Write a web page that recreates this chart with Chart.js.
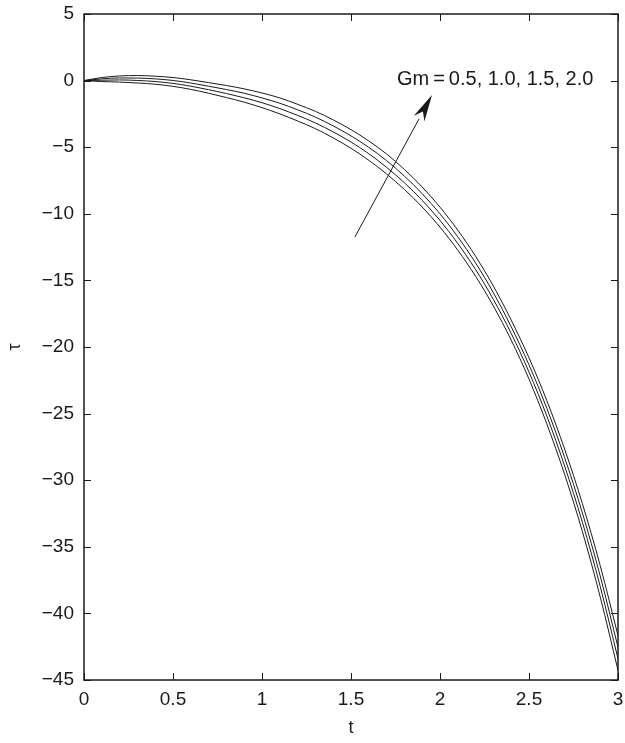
<!DOCTYPE html>
<html>
<head>
<meta charset="utf-8">
<script src="https://cdn.jsdelivr.net/npm/chart.js@4"></script>
<style>
	html, body { margin: 0; padding: 0; background: #fff; }
	canvas { display: block; }
</style>
</head>
<body>
<canvas id="c" width="625" height="743"></canvas>
<script>
// time axis
const tValues = [0, 0.1, 0.2, 0.3, 0.4, 0.5, 0.6, 0.7, 0.8, 0.9, 1.0, 1.1, 1.2, 1.3, 1.4, 1.5,
	1.6, 1.7, 1.8, 1.9, 2.0, 2.1, 2.2, 2.3, 2.4, 2.5, 2.6, 2.7, 2.8, 2.9, 3.0];

// tau for Gm = 0.5, 1.0, 1.5, 2.0
const tauGm05 = [0, -0.07, -0.11, -0.18, -0.27, -0.43, -0.66, -0.95, -1.27, -1.62, -2.03, -2.5, -3.03, -3.61, -4.30, -5.08,
	-5.98, -7.01, -8.17, -9.49, -11.0, -12.73, -14.69, -16.93, -19.48, -22.41, -25.77, -29.56, -33.86, -38.76, -44.27];
const tauGm10 = [0, 0.03, 0.05, 0.01, -0.07, -0.21, -0.42, -0.68, -0.97, -1.29, -1.66, -2.1, -2.61, -3.18, -3.85, -4.61,
	-5.49, -6.51, -7.67, -8.99, -10.5, -12.23, -14.19, -16.43, -18.98, -21.88, -25.18, -28.93, -33.16, -37.97, -43.40];
const tauGm15 = [0, 0.13, 0.20, 0.19, 0.13, 0.01, -0.18, -0.42, -0.67, -0.95, -1.30, -1.7, -2.19, -2.74, -3.40, -4.15,
	-5.01, -6.01, -7.17, -8.49, -10.0, -11.73, -13.69, -15.93, -18.48, -21.34, -24.60, -28.29, -32.46, -37.19, -42.54];
const tauGm20 = [0, 0.23, 0.35, 0.38, 0.33, 0.23, 0.06, -0.15, -0.37, -0.62, -0.93, -1.3, -1.78, -2.31, -2.95, -3.68,
	-4.53, -5.51, -6.67, -7.99, -9.5, -11.23, -13.19, -15.43, -17.98, -20.81, -24.02, -27.66, -31.76, -36.41, -41.67];

const gmLabels = ["Gm=0.5", "Gm=1.0", "Gm=1.5", "Gm=2.0"];
const annotationText = "Gm\u2009=\u20090.5, 1.0, 1.5, 2.0";

const FONT = "'Liberation Sans', Arial, Helvetica, sans-serif";
const INK = "#1a1a1a";

const toPoints = ys => tValues.map((t, i) => ({x: t, y: ys[i]}));

const framePlugin = {
	id: "frame",
	afterDraw(chart) {
		const {ctx, chartArea: a, scales: {x, y}} = chart;
		ctx.save();
		ctx.strokeStyle = INK;
		ctx.lineWidth = 1.5;
		ctx.strokeRect(a.left, a.top, a.right - a.left, a.bottom - a.top);

		// inward ticks on all four sides
		ctx.lineWidth = 1;
		const len = 7;
		ctx.beginPath();
		x.ticks.forEach(tk => {
			const px = Math.round(x.getPixelForValue(tk.value)) + 0.5;
			ctx.moveTo(px, a.bottom); ctx.lineTo(px, a.bottom - len);
			ctx.moveTo(px, a.top); ctx.lineTo(px, a.top + len);
		});
		y.ticks.forEach(tk => {
			const py = Math.round(y.getPixelForValue(tk.value)) + 0.5;
			ctx.moveTo(a.left, py); ctx.lineTo(a.left + len, py);
			ctx.moveTo(a.right, py); ctx.lineTo(a.right - len, py);
		});
		ctx.stroke();

		// arrow
		const x0 = x.getPixelForValue(1.522), y0 = y.getPixelForValue(-11.74);
		const x1 = x.getPixelForValue(1.955), y1 = y.getPixelForValue(-1.08);
		const ang = Math.atan2(y1 - y0, x1 - x0);
		const headLen = 27, headW = 6;
		const bx = x1 - headLen * Math.cos(ang), by = y1 - headLen * Math.sin(ang);
		ctx.beginPath();
		ctx.moveTo(x0, y0);
		ctx.lineTo(bx, by);
		ctx.stroke();
		ctx.fillStyle = INK;
		ctx.beginPath();
		ctx.moveTo(x1, y1);
		ctx.lineTo(bx + headW * Math.sin(ang), by - headW * Math.cos(ang));
		ctx.lineTo(x1 - 0.7 * headLen * Math.cos(ang), y1 - 0.7 * headLen * Math.sin(ang));
		ctx.lineTo(bx - headW * Math.sin(ang), by + headW * Math.cos(ang));
		ctx.closePath();
		ctx.fill();

		// label
		ctx.font = "20px " + FONT;
		ctx.textBaseline = "alphabetic";
		ctx.textAlign = "left";
		ctx.fillText(annotationText, x.getPixelForValue(1.758), y.getPixelForValue(-0.33));
		ctx.restore();
	}
};

const series = [tauGm05, tauGm10, tauGm15, tauGm20];

new Chart(document.getElementById("c"), {
	type: "line",
	data: {
		datasets: series.map((ys, i) => ({
			label: gmLabels[i],
			data: toPoints(ys),
			borderColor: INK,
			borderWidth: 1,
			pointRadius: 0,
			cubicInterpolationMode: "monotone",
			fill: false,
		})),
	},
	options: {
		responsive: false,
		animation: false,
		layout: {padding: {top: 14, right: 7, left: 0, bottom: 0}},
		plugins: {
			legend: {display: false},
			tooltip: {enabled: false},
		},
		scales: {
			x: {
				type: "linear",
				min: 0,
				max: 3,
				ticks: {
					stepSize: 0.5,
					color: INK,
					padding: 8,
					font: {family: FONT, size: 19},
					callback: v => String(v),
				},
				grid: {display: false, drawTicks: false},
				border: {display: false},
				title: {display: true, text: "t", color: INK, font: {family: FONT, size: 18}, padding: {top: 2}},
				afterFit: s => {
					s.height = 63;
					s.paddingLeft = 0;
					s.paddingRight = 0;
				},
			},
			y: {
				min: -45,
				max: 5,
				ticks: {
					stepSize: 5,
					color: INK,
					padding: 10,
					font: {family: FONT, size: 19},
					callback: v => String(v).replace("-", "\u2212"),
				},
				grid: {display: false, drawTicks: false},
				border: {display: false},
				title: {display: true, text: "\u03c4", color: INK, font: {family: FONT, size: 18}, padding: {bottom: 0}},
				afterFit: s => {
					s.width = 84;
					s.paddingTop = 0;
					s.paddingBottom = 0;
				},
			},
		},
	},
	plugins: [framePlugin],
});
</script>
</body>
</html>
